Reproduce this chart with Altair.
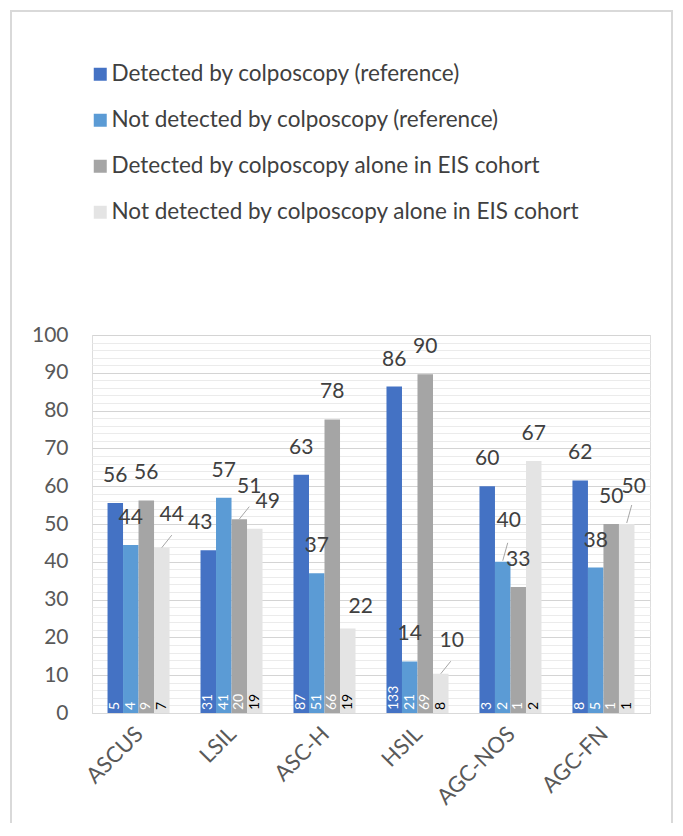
import altair as alt
import pandas as pd

categories = ["ASCUS", "LSIL", "ASC-H", "HSIL", "AGC-NOS", "AGC-FN"]
series = [
    "Detected by colposcopy (reference)",
    "Not detected by colposcopy (reference)",
    "Detected by colposcopy alone in EIS cohort",
    "Not detected by colposcopy alone in EIS cohort",
]
colors = ["#4472C4", "#5B9BD5", "#A5A5A5", "#E4E4E4"]
count_colors = ["#FFFFFF", "#FFFFFF", "#FFFFFF", "#000000"]

pct_detected_ref = [55.56, 43.06, 63.04, 86.36, 60.0, 61.54]
pct_not_detected_ref = [44.44, 56.94, 36.96, 13.64, 40.0, 38.46]
pct_detected_eis = [56.25, 51.28, 77.65, 89.61, 33.33, 50.0]
pct_not_detected_eis = [43.75, 48.72, 22.35, 10.39, 66.67, 50.0]

n_detected_ref = [5, 31, 87, 133, 3, 8]
n_not_detected_ref = [4, 41, 51, 21, 2, 5]
n_detected_eis = [9, 20, 66, 69, 1, 1]
n_not_detected_eis = [7, 19, 19, 8, 2, 1]

# label nudges (dx px, dy px, leader type) keyed by (category, series index)
label_nudge = {
    ("ASCUS", 3): (10, -6, "a"),
    ("LSIL", 0): (-8, 0, ""),
    ("LSIL", 2): (10, -5, "a"),
    ("LSIL", 3): (13, 0, ""),
    ("ASC-H", 3): (13, 5, ""),
    ("HSIL", 3): (11, -6, "a"),
    ("AGC-NOS", 1): (6, -14, "b"),
    ("AGC-FN", 3): (7, -10, "b"),
}

pcts = [pct_detected_ref, pct_not_detected_ref, pct_detected_eis, pct_not_detected_eis]
counts = [n_detected_ref, n_not_detected_ref, n_detected_eis, n_not_detected_eis]

rows = []
for si, s in enumerate(series):
    for ci, c in enumerate(categories):
        ndx, ndy, lt = label_nudge.get((c, si), (0, 0, ""))
        rows.append({
            "category": c, "series": s, "value": pcts[si][ci],
            "n": counts[si][ci], "ndx": ndx, "ndy": ndy, "leader": lt,
            "ccol": count_colors[si],
        })
df = pd.DataFrame(rows)

FONT = "Lato"

xscale = alt.Scale(domain=categories, paddingInner=0.333, paddingOuter=0.167)
yscale = alt.Scale(domain=[0, 100], nice=False, zero=True)

xenc = alt.X("category:N", sort=categories, scale=xscale,
             axis=alt.Axis(title=None, labelAngle=-45, labelFontSize=22,
                           labelColor="#595959", ticks=False, domainColor="#d9d9d9",
                           domainWidth=1, grid=False, labelPadding=10, labelOffset=-6,
                           labelFont=FONT))
xoff = alt.XOffset("series:N", sort=series, scale=alt.Scale(paddingInner=0, paddingOuter=0))
yenc = alt.Y("value:Q", scale=yscale,
             axis=alt.Axis(title=None, values=list(range(0, 101, 2)),
                           labelExpr="datum.value % 10 === 0 ? datum.label : ''",
                           labelOverlap=False, labelFontSize=21, labelColor="#595959",
                           labelFont=FONT, ticks=False, domain=False, labelPadding=24,
                           gridColor=alt.expr("datum.value % 10 === 0 ? '#d4d4d4' : '#ebebeb'"),
                           gridWidth=1))

base = alt.Chart(df)

bars = base.mark_bar().encode(
    x=xenc, xOffset=xoff, y=yenc,
    color=alt.Color("series:N", sort=series,
                    scale=alt.Scale(domain=series, range=colors),
                    legend=alt.Legend(title=None, orient="none", legendX=-3, legendY=-272,
                                      direction="vertical", symbolType="square",
                                      symbolSize=169, symbolStrokeWidth=0,
                                      labelFontSize=22.5, labelColor="#404040",
                                      labelFont=FONT, rowPadding=23, labelOffset=0,
                                      labelLimit=600)),
)

xs = alt.X("category:N", sort=categories, scale=xscale, axis=None)
ys = alt.Y("value:Q", scale=yscale, axis=None)

value_labels = base.mark_text(
    fontSize=21, font=FONT, color="#404040", baseline="middle", align="center",
    dx=alt.expr("datum.ndx"), dy=alt.expr("-27 + datum.ndy"),
).encode(x=xs, xOffset=xoff, y=ys, text=alt.Text("value:Q", format=".0f"))

count_labels = base.mark_text(
    fontSize=14, font=FONT, angle=270, align="left", baseline="middle", dx=3,
).encode(x=xs, xOffset=xoff, y=alt.value(378), text="n:Q",
         color=alt.Color("ccol:N", scale=None))

leaders = base.transform_filter("datum.leader !== ''").mark_point(
    filled=False, stroke="#a6a6a6", strokeWidth=1, size=400, opacity=1,
).encode(
    x=xs, xOffset=xoff, y=ys,
    shape=alt.Shape("leader:N", scale=alt.Scale(domain=["a", "b"],
                    range=["M0,0L1,-1.25", "M0,-0.1L0.5,-1.9"]), legend=None),
)

frame = alt.Chart(pd.DataFrame({"k": [0]})).mark_rect(
    fillOpacity=0, stroke="#d9d9d9", strokeWidth=2
).encode(x=alt.value(-81), x2=alt.value(580), y=alt.value(-324), y2=alt.value(490))

chart = alt.layer(frame, bars, value_labels, count_labels, leaders).resolve_scale(
    color="independent", shape="independent"
).resolve_axis(x="independent", y="independent").properties(
    width=558, height=378,
    padding={"left": 84, "top": 327, "right": 25, "bottom": 110},
    autosize=alt.AutoSizeParams(type="none"),
).configure_view(stroke=None).configure(font=FONT)

chart.save("out.html", embed_options={"renderer": "svg", "actions": False})
